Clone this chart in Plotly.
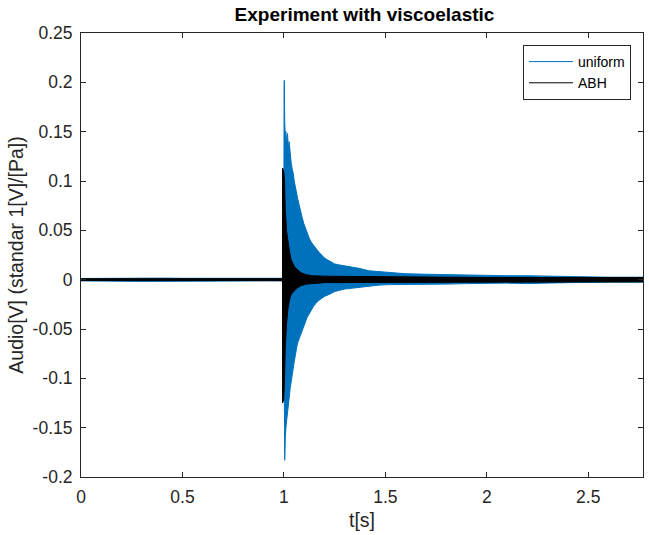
import plotly.graph_objects as go

# ---- data (signal envelopes) ----
uni_t = [0.0, 0.1, 0.2, 0.3, 0.4, 0.5, 0.6, 0.7, 0.8, 0.9, 0.999,
         1.001, 1.002, 1.004, 1.007, 1.010, 1.014, 1.018, 1.022, 1.026, 1.031,
         1.036, 1.041, 1.046, 1.051, 1.056, 1.062, 1.068, 1.075, 1.082, 1.090,
         1.098, 1.106, 1.115, 1.125, 1.135, 1.146, 1.158, 1.172, 1.186, 1.200,
         1.216, 1.233, 1.25, 1.27, 1.30, 1.33, 1.37, 1.42, 1.47, 1.52,
         1.6, 1.7, 1.8, 1.9, 2.0, 2.1, 2.2, 2.3, 2.4, 2.5, 2.6, 2.77]
uni_hi = [0.0012, 0.0014, 0.0016, 0.0018, 0.0016, 0.0014, 0.0014, 0.0012, 0.0014, 0.0012, 0.0014,
          0.190, 0.202, 0.160, 0.145, 0.150, 0.135, 0.148, 0.132, 0.140, 0.123,
          0.118, 0.112, 0.108, 0.100, 0.094, 0.090, 0.082, 0.076, 0.068, 0.063,
          0.057, 0.052, 0.048, 0.042, 0.038, 0.035, 0.031, 0.028, 0.025, 0.022,
          0.020, 0.018, 0.016, 0.015, 0.014, 0.013, 0.0115, 0.009, 0.008, 0.007,
          0.006, 0.0055, 0.005, 0.0045, 0.004, 0.004, 0.004, 0.0035, 0.003, 0.0025, 0.0025, 0.0025]
uni_lo = [-0.0012, -0.0014, -0.0016, -0.0018, -0.0016, -0.0014, -0.0012, -0.0012, -0.0014, -0.0012, -0.0012,
          -0.100, -0.120, -0.183, -0.160, -0.150, -0.142, -0.138, -0.130, -0.120, -0.110,
          -0.103, -0.096, -0.090, -0.083, -0.076, -0.070, -0.064, -0.059, -0.055, -0.051,
          -0.047, -0.043, -0.038, -0.034, -0.031, -0.027, -0.024, -0.021, -0.019, -0.017,
          -0.0155, -0.014, -0.012, -0.011, -0.0095, -0.009, -0.008, -0.0065, -0.0055, -0.005,
          -0.0045, -0.0045, -0.0045, -0.004, -0.0035, -0.0035, -0.004, -0.0035, -0.003, -0.0025, -0.0025, -0.0025]

abh_t = [0.0, 0.2, 0.4, 0.6, 0.8, 0.993, 0.9935, 0.999, 1.0033, 1.0066, 1.0131,
         1.0197, 1.028, 1.036, 1.0525, 1.069, 1.085, 1.11, 1.14, 1.2, 1.4,
         1.6, 2.0, 2.4, 2.77]
abh_hi = [0.0009, 0.0009, 0.001, 0.0009, 0.0009, 0.001, 0.113, 0.110, 0.100, 0.072, 0.049,
          0.038, 0.028, 0.020, 0.013, 0.0098, 0.007, 0.005, 0.004, 0.0035, 0.003,
          0.0025, 0.0022, 0.0022, 0.0022]
abh_lo = [-0.0009, -0.0009, -0.001, -0.0009, -0.0009, -0.001, -0.125, -0.122, -0.100, -0.070, -0.045,
          -0.030, -0.020, -0.015, -0.011, -0.008, -0.006, -0.0045, -0.0035, -0.003, -0.0028,
          -0.0025, -0.0022, -0.0022, -0.0022]

x_ticks = [0, 0.5, 1, 1.5, 2, 2.5]
x_ticktext = ["0", "0.5", "1", "1.5", "2", "2.5"]
y_ticks = [-0.2, -0.15, -0.1, -0.05, 0, 0.05, 0.1, 0.15, 0.2, 0.25]
y_ticktext = ["-0.2", "-0.15", "-0.1", "-0.05", "0", "0.05", "0.1", "0.15", "0.2", "0.25"]

series_names = ["uniform", "ABH"]
BLUE = "#0072BD"
BLACK = "#000000"
AX = "#262626"
FONT = "Liberation Sans, Arial, Helvetica, sans-serif"

fig = go.Figure()

def band(t, hi, lo, color):
    return go.Scatter(
        x=list(t) + list(t)[::-1],
        y=list(hi) + list(lo)[::-1],
        mode="lines", fill="toself", fillcolor=color,
        line=dict(color=color, width=1),
        showlegend=False, hoverinfo="skip")

fig.add_trace(band(uni_t, uni_hi, uni_lo, BLUE))
fig.add_trace(band(abh_t, abh_hi, abh_lo, BLACK))

# legend entries
for name, col in zip(series_names, [BLUE, BLACK]):
    fig.add_trace(go.Scatter(x=[None], y=[None], mode="lines", name=name,
                             line=dict(color=col, width=1)))

axis_common = dict(showline=True, linecolor=AX, linewidth=1, mirror="ticks",
                   ticks="inside", ticklen=5, tickcolor=AX, tickwidth=1,
                   showgrid=False, zeroline=False, automargin=False,
                   tickfont=dict(family=FONT, size=17.5, color=AX))

fig.update_layout(
    width=649, height=535,
    margin=dict(l=81, r=6, t=33, b=58, autoexpand=False),
    paper_bgcolor="white", plot_bgcolor="white",
    title=dict(text="<b>Experiment with viscoelastic</b>", x=364.5 / 649, xanchor="center",
               y=1 - 14 / 535, yanchor="middle",
               font=dict(family=FONT, size=19, color="black")),
    xaxis=dict(range=[0, 2.77], tickvals=x_ticks, ticktext=x_ticktext,
               title=dict(text="t[s]", standoff=7, font=dict(family=FONT, size=19.5, color=AX)),
               ticklabelstandoff=4, **axis_common),
    yaxis=dict(range=[-0.2, 0.25], tickvals=y_ticks, ticktext=y_ticktext,
               title=dict(text="Audio[V] (standar 1[V]/[Pa])", standoff=3,
                          font=dict(family=FONT, size=19.5, color=AX)),
               ticklabelstandoff=4, **axis_common),
    legend=dict(x=0.9786, y=0.973, xanchor="right", yanchor="top",
                bgcolor="white", bordercolor=AX, borderwidth=1,
                font=dict(family=FONT, size=14, color="black"),
                itemwidth=44, tracegroupgap=0),
    showlegend=True,
)

fig.write_html("out.html", config={"displayModeBar": False},
               post_script="document.body.style.margin='0';")
